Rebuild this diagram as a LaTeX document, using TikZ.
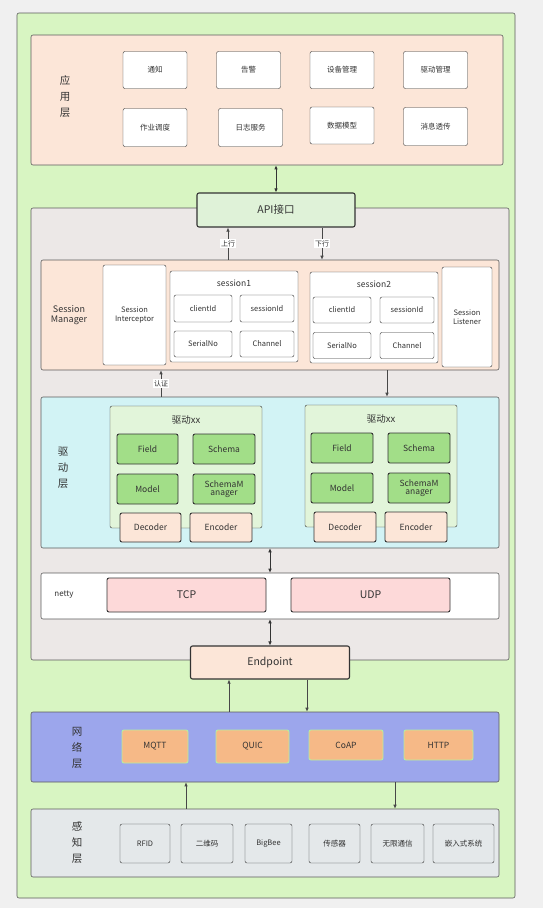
\documentclass[tikz,border=0pt]{standalone}
\usepackage{fontspec}
\setmainfont{Noto Sans CJK SC}
\usetikzlibrary{arrows.meta}
\definecolor{pageGray}{HTML}{F0F0F0}
\definecolor{outerGreen}{HTML}{D8F5C2}
\definecolor{peach}{HTML}{FCE6D8}
\definecolor{coreGray}{HTML}{ECE8E7}
\definecolor{apiGreen}{HTML}{DFF2D8}
\definecolor{drvCyan}{HTML}{D2F3F5}
\definecolor{drvGreen}{HTML}{E2F5DA}
\definecolor{fieldGreen}{HTML}{A2DE88}
\definecolor{tcpPink}{HTML}{FDD9D9}
\definecolor{netBlue}{HTML}{9CA6EC}
\definecolor{protoOrange}{HTML}{F6B987}
\definecolor{protoEdge}{HTML}{B5EFA0}
\definecolor{perGray}{HTML}{E4E8EA}
\definecolor{lineDark}{HTML}{333333}
\begin{document}
\begin{tikzpicture}[x=1pt,y=-1pt,
  every node/.style={text=lineDark},
  box/.style args={#1x#2}{draw=lineDark,rounded corners=2pt,minimum width=#1pt,minimum height=#2pt,inner sep=0pt,align=center},
  layer/.style={box=#1,draw=lineDark!80,line width=0.6pt},
  appItem/.style={box=#1,fill=white,font=\fontsize{7.5}{8}\selectfont},
  sessItem/.style={box=#1,fill=white,font=\fontsize{7.5}{8.5}\selectfont},
  drvItem/.style={box=#1,fill=fieldGreen,line width=0.9pt,font=\fontsize{8.5}{8.5}\selectfont},
  codecItem/.style={box=#1,fill=peach,line width=0.9pt,font=\fontsize{8.5}{8.5}\selectfont},
  protoItem/.style={box=#1,fill=protoOrange,draw=protoEdge,line width=0.9pt,font=\fontsize{8.5}{8.5}\selectfont},
  perItem/.style={box=#1,fill=perGray,font=\fontsize{7.5}{8}\selectfont},
  layerLabel/.style={align=center,font=\fontsize{10.5}{16}\selectfont},
  arr/.style={draw=lineDark!90,line width=0.7pt,-{Latex[length=4pt,width=3.5pt]}},
  darr/.style={draw=lineDark,line width=0.8pt,{Latex[length=4pt,width=3.5pt]}-{Latex[length=4pt,width=3.5pt]}},
  lbl/.style={fill=white,inner sep=1pt,font=\fontsize{7}{7}\selectfont}]
\fill[pageGray] (0,0) rectangle (543,908);
\node[layer=498x885,fill=outerGreen] (outer) at (266,455.5) {};

\node[layer=472x130,fill=peach] (app) at (267,100) {};
\node[layerLabel] (appLabel) at (65,97) {应\\用\\层};
\node[appItem=64x37] (tongzhi) at (155,70) {通知};
\node[appItem=64x37] (gaojing) at (248.5,70) {告警};
\node[appItem=64x37] (sbgl) at (342,70) {设备管理};
\node[appItem=64x37] (qdgl) at (435.5,70) {驱动管理};
\node[appItem=64x38] (zydd) at (155,127.5) {作业调度};
\node[appItem=64x38] (rzfw) at (250.5,127.5) {日志服务};
\node[appItem=64x37] (sjmx) at (342,125.5) {数据模型};
\node[appItem=64x38] (xxtc) at (435.5,126.5) {消息透传};

\node[layer=478x452,fill=coreGray] (core) at (270,434) {};
\node[box=158x34,fill=apiGreen,line width=1.1pt,font=\fontsize{10.5}{10.5}\selectfont] (api) at (276,210) {API接口};
\draw[darr] (app.south -| api) -- (api.north);

\node[layer=458x110,fill=peach] (sm) at (270,315) {};
\node[align=center,font=\fontsize{9}{10.5}\selectfont] (smLabel) at (69,315) {Session\\Manager};
\node[sessItem=63x100] (interceptor) at (134.5,315) {Session\\Interceptor};
\node[box=128x91,fill=white] (sess1) at (234,316.5) {};
\node[font=\fontsize{8.5}{8.5}\selectfont] (sess1Title) at (234,283) {session1};
\node[sessItem=58x27] (s1Client) at (203,308.5) {clientId};
\node[sessItem=54x27] (s1Sess) at (267,308.5) {sessionId};
\node[sessItem=58x26] (s1Serial) at (203,344) {SerialNo};
\node[sessItem=54x26] (s1Channel) at (267,344) {Channel};
\node[box=128x91,fill=white] (sess2) at (374,317.5) {};
\node[font=\fontsize{8.5}{8.5}\selectfont] (sess2Title) at (374,284) {session2};
\node[sessItem=58x26] (s2Client) at (342,310) {clientId};
\node[sessItem=54x26] (s2Sess) at (407,310) {sessionId};
\node[sessItem=58x26] (s2Serial) at (342,345.5) {SerialNo};
\node[sessItem=54x26] (s2Channel) at (407,345.5) {Channel};
\node[sessItem=50x100] (listener) at (467,317) {Session\\Listener};

\coordinate (upX) at (228,0);
\coordinate (downX) at (322,0);
\draw[arr] (upX |- sm.north) -- node[lbl] {上行} (upX |- api.south);
\draw[arr] (downX |- api.south) -- node[lbl] {下行} (downX |- sm.north);

\node[layer=458x151,fill=drvCyan] (drv) at (270,472.5) {};
\node[layerLabel] (drvLabel) at (63,468) {驱\\动\\层};
\node[box=152x122,fill=drvGreen] (drv1) at (186,467) {};
\node[font=\fontsize{9.5}{9.5}\selectfont] (drv1Title) at (186,420) {驱动xx};
\node[drvItem=61x30] (d1Field) at (147.5,449) {Field};
\node[drvItem=62x30] (d1Schema) at (224,449) {Schema};
\node[drvItem=61x30] (d1Model) at (147.5,489) {Model};
\node[drvItem=62x30] (d1SchemaM) at (224,489) {SchemaM\\anager};
\node[codecItem=61x29] (d1Decoder) at (150.5,527.5) {Decoder};
\node[codecItem=62x29] (d1Encoder) at (221,527.5) {Encoder};
\node[box=152x122,fill=drvGreen] (drv2) at (381,466) {};
\node[font=\fontsize{9.5}{9.5}\selectfont] (drv2Title) at (381,419) {驱动xx};
\node[drvItem=62x30] (d2Field) at (342,448) {Field};
\node[drvItem=62x30] (d2Schema) at (419,448) {Schema};
\node[drvItem=62x30] (d2Model) at (342,488) {Model};
\node[drvItem=62x30] (d2SchemaM) at (419,488) {SchemaM\\anager};
\node[codecItem=62x30] (d2Decoder) at (345,527) {Decoder};
\node[codecItem=62x30] (d2Encoder) at (416,527) {Encoder};

\coordinate (authX) at (161,0);
\coordinate (pushX) at (387,0);
\draw[arr] (authX |- drv.north) -- node[lbl] {认证} (authX |- sm.south);
\draw[arr] (pushX |- sm.south) -- (pushX |- drv.north);

\node[layer=458x46,fill=white] (netty) at (270,596) {};
\node[font=\fontsize{8}{8}\selectfont] (nettyLabel) at (64,595) {netty};
\node[box=159x34,fill=tcpPink,line width=0.9pt,font=\fontsize{10.5}{10.5}\selectfont] (tcp) at (186.5,595) {TCP};
\node[box=159x34,fill=tcpPink,line width=0.9pt,font=\fontsize{10.5}{10.5}\selectfont] (udp) at (370.5,595) {UDP};
\draw[darr,line width=0.6pt] (drv.south) -- (netty.north);

\node[box=159x33,fill=peach,line width=1.1pt,font=\fontsize{10.5}{10.5}\selectfont] (endpoint) at (270,662.5) {Endpoint};
\draw[darr,line width=0.6pt] (netty.south) -- (endpoint.north);

\node[layer=468x70,fill=netBlue] (net) at (265,747) {};
\node[layerLabel] (netLabel) at (77,748) {网\\络\\层};
\node[protoItem=66x33] (mqtt) at (155,746.5) {MQTT};
\node[protoItem=73x33] (quic) at (252.5,746.5) {QUIC};
\node[protoItem=74x30] (coap) at (346,745) {CoAP};
\node[protoItem=69x30] (http) at (438.5,745) {HTTP};

\coordinate (epUpX) at (229,0);
\coordinate (epDownX) at (307,0);
\draw[arr] (epUpX |- net.north) -- (epUpX |- endpoint.south);
\draw[arr] (epDownX |- endpoint.south) -- (epDownX |- net.north);

\node[layer=468x68,fill=perGray] (per) at (265,843) {};
\node[layerLabel] (perLabel) at (77,843) {感\\知\\层};
\node[perItem=50x39] (rfid) at (145,843.5) {RFID};
\node[perItem=52x39] (qrcode) at (207,843.5) {二维码};
\node[perItem=47x39] (bigbee) at (268.5,843.5) {BigBee};
\node[perItem=51x39] (sensor) at (334.5,843.5) {传感器};
\node[perItem=53x39] (wireless) at (397.5,843.5) {无限通信};
\node[perItem=61x39] (embedded) at (463.5,843.5) {嵌入式系统};

\coordinate (perUpX) at (186,0);
\coordinate (perDownX) at (395,0);
\draw[arr] (perUpX |- per.north) -- (perUpX |- net.south);
\draw[arr] (perDownX |- net.south) -- (perDownX |- per.north);
\end{tikzpicture}
\end{document}
